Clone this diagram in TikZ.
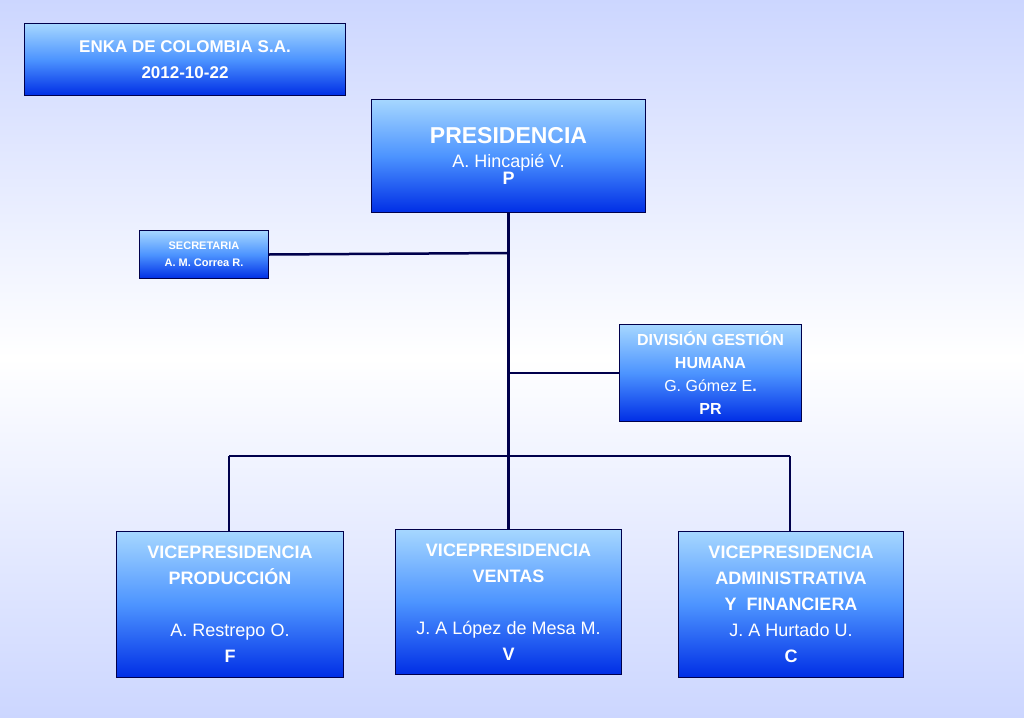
\documentclass[tikz,border=0pt]{standalone}
\usepackage{fontspec}
\setmainfont{Liberation Sans}
\begin{document}
\begin{tikzpicture}[x=1pt,y=-1pt,
  box/.style={draw=blue!30!black,line width=1pt,top color=blue!45!cyan!35!white,bottom color=blue!80!cyan!90!black,middle color=blue!60!cyan!70!white,text=white,align=center,inner sep=0pt,anchor=north west},
  conn/.style={draw=blue!30!black,line width=2.5pt}]
\useasboundingbox (0,0) rectangle (1024,717);
\fill[top color=cyan!20!blue!20,bottom color=white] (0,0) rectangle (1024,358);
\fill[top color=white,bottom color=cyan!20!blue!20] (0,358) rectangle (1024,717);
\node[box,minimum width=321pt,minimum height=72pt,font=\bfseries\fontsize{17}{26}\selectfont] (t) at (24,23) {ENKA DE COLOMBIA S.A.\\2012-10-22};
\node[box,minimum width=274pt,minimum height=113pt] (p) at (371,99) {{\bfseries\fontsize{23}{28}\selectfont PRESIDENCIA}\\[10pt]{\fontsize{18}{24}\selectfont A. Hincapié V.}\\{\bfseries\fontsize{18}{24}\selectfont P}};
\node[box,minimum width=129pt,minimum height=48pt,font=\bfseries\fontsize{11}{17}\selectfont] (s) at (139,230) {SECRETARIA\\A. M. Correa R.};
\node[box,minimum width=182pt,minimum height=97pt,font=\fontsize{16}{23}\selectfont] (d) at (619,324) {\bfseries DIVISIÓN GESTIÓN\\\bfseries HUMANA\\G. Gómez E\textbf{.}\\\bfseries PR};
\node[box,minimum width=227pt,minimum height=146pt,font=\fontsize{18}{26}\selectfont] (v1) at (116,531) {\bfseries VICEPRESIDENCIA\\\bfseries PRODUCCIÓN\\[26pt]A. Restrepo O.\\\bfseries F};
\node[box,minimum width=226pt,minimum height=145pt,font=\fontsize{18}{26}\selectfont] (v2) at (395,529) {\bfseries VICEPRESIDENCIA\\\bfseries VENTAS\\[26pt]J. A López de Mesa M.\\\bfseries V};
\node[box,minimum width=225pt,minimum height=146pt,font=\fontsize{18}{26}\selectfont] (v3) at (678,531) {\bfseries VICEPRESIDENCIA\\\bfseries ADMINISTRATIVA\\\bfseries Y~ FINANCIERA\\J. A Hurtado U.\\\bfseries C};
\coordinate (j1) at (508,253);
\coordinate (j2) at (508,373);
\coordinate (j3) at (508,456);
\coordinate (l) at (229,456);
\coordinate (r) at (790,456);
\draw[conn] (p.south) -- (v2.north);
\draw[conn] (s.east) -- (j1);
\draw[conn] (j2) -- (d.west);
\draw[conn] (l) -- (r);
\draw[conn] (l) -- (l|-v1.north);
\draw[conn] (r) -- (r|-v3.north);
\end{tikzpicture}
\end{document}
